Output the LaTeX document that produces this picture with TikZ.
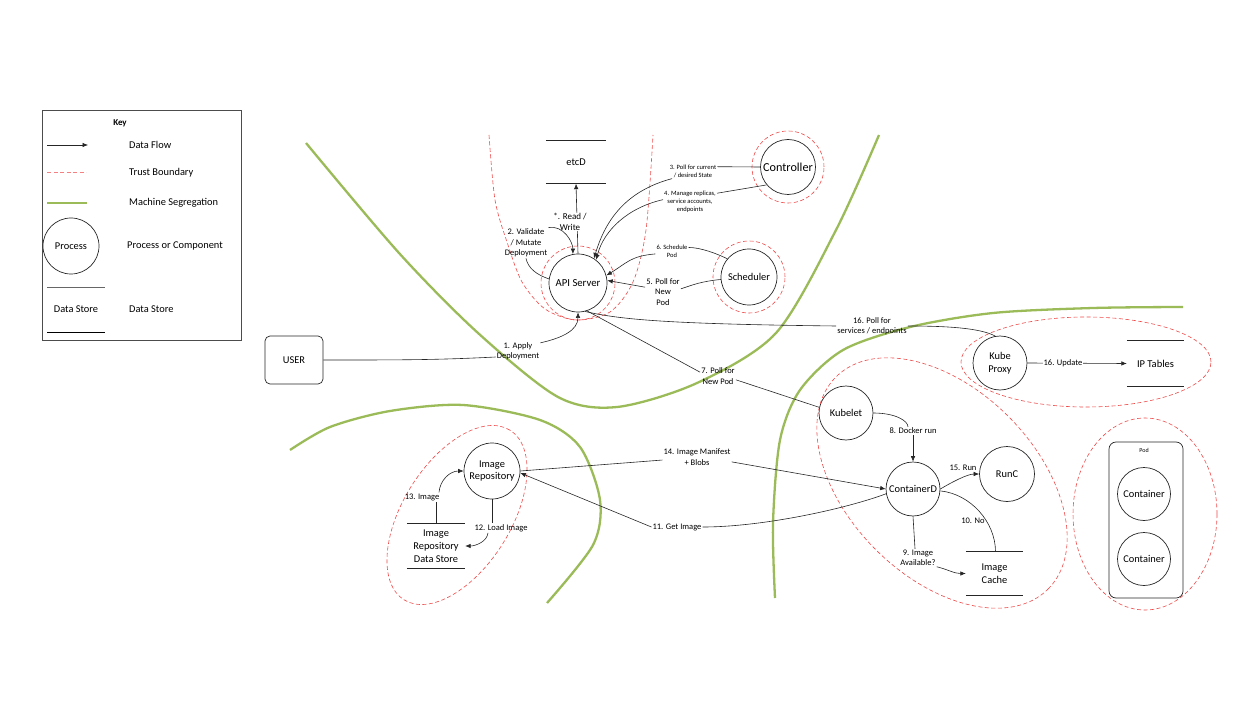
\documentclass[tikz,border=0pt]{standalone}
\usepackage{fontspec}
\setmainfont{Carlito}
\usetikzlibrary{arrows.meta,calc}
\definecolor{kgreen}{HTML}{9BBB59}
\definecolor{kred}{HTML}{EE4B4B}
\newcommand{\fnode}{\fontsize{10.4}{12.7}\selectfont}
\newcommand{\flbl}{\fontsize{8.5}{10.5}\selectfont}
\newcommand{\fsml}{\fontsize{6.5}{8}\selectfont}
\newcommand{\storebars}[1]{\draw[kbar] (#1.north west) -- (#1.north east) (#1.south west) -- (#1.south east);}
\tikzset{
  >={Latex[length=5.5pt,width=4.5pt]},
  kproc/.style={circle, draw=black!85, line width=0.7pt, inner sep=0pt,
                minimum size=54pt, align=center, font=\fnode},
  kstore/.style={inner sep=0pt, minimum width=58pt, minimum height=44pt,
                 align=center, font=\fnode},
  kbar/.style={draw=black!85, line width=0.7pt},
  kflow/.style={->, draw=black!85, line width=0.6pt},
  kline/.style={draw=black!85, line width=0.6pt},
  klbl/.style={font=\flbl, align=center, inner sep=1pt},
  ksml/.style={font=\fsml, align=center, inner sep=1pt},
  ktrust/.style={draw=kred, line width=0.6pt, dash pattern=on 4pt off 2.5pt},
  kseg/.style={draw=kgreen, line width=2.3pt},
}

\begin{document}
\begin{tikzpicture}[x=1pt,y=-1pt]
  \useasboundingbox (0,0) rectangle (1260,727);

  % --- machine segregation ---
  \draw[kseg] plot[smooth] coordinates {(306,143) (399,253) (478,333) (558,397)
    (617,407) (697,383) (776,333) (836,230) (879,135)};
  \draw[kseg] plot[smooth] coordinates {(290,450) (330,427) (390,411) (463,405)
    (540,420) (580,447) (600,500) (593,545) (547,603)};
  \draw[kseg] plot[smooth] coordinates {(775,598) (773,523) (780,440) (800,390)
    (843,350) (910,327) (993,313) (1093,308) (1183,307)};

  % --- key ---
  \node[draw=black!70, line width=0.7pt, minimum width=199pt, minimum height=230pt,
        inner sep=0pt] (key) at (141.5,225) {};
  \node[font=\fontsize{9}{10}\selectfont\bfseries] (keyttl) at (120,123) {Key};
  \draw[kflow] (47,145) -- (88,145);
  \node[anchor=west, inner sep=0pt, font=\fnode] (keyflow) at (129,145) {Data Flow};
  \draw[ktrust, draw=kred!70, line width=1pt] (47,173) -- (86,173);
  \node[anchor=west, inner sep=0pt, font=\fnode] (keytrust) at (129,173) {Trust Boundary};
  \draw[kseg] (47,203) -- (87,203);
  \node[anchor=west, inner sep=0pt, font=\fnode] (keyseg) at (129,203) {Machine Segregation};
  \node[kproc, minimum size=56pt] (keyproc) at (71,246) {Process};
  \node[anchor=west, inner sep=0pt, font=\fnode] (keyproctxt) at (127,246) {Process or Component};
  \draw[kline, black!60] (47,287) -- (105,287);
  \draw[kbar, line width=1pt, black] (47,332) -- (105,332);
  \node[font=\fnode] (keystore) at (76,309) {Data Store};
  \node[anchor=west, inner sep=0pt, font=\fnode] (keystoretxt) at (129,309) {Data Store};

  % --- control plane ---
  \node[kstore, minimum width=60pt, minimum height=43pt] (etcd) at (576,162) {etcD};
  \storebars{etcd}
  \node[kproc, minimum size=58pt, font=\fontsize{10.7}{12}\selectfont] (api) at (578,283) {API Server};
  \node[kproc, minimum size=55pt, font=\fontsize{12.2}{13}\selectfont] (ctrl) at (788,167) {Controller};
  \node[kproc, minimum size=56pt] (sched) at (749,277) {Scheduler};
  \node[draw=black!85, line width=0.7pt, rounded corners=5pt, minimum width=58pt,
        minimum height=48pt, font=\fnode] (user) at (294,360) {USER};

  \draw[ktrust] (api.center) circle[radius=37pt];
  \draw[ktrust] (ctrl.center) circle[radius=36pt];
  \draw[ktrust] (sched.center) circle[radius=36pt];
  \draw[ktrust] plot[smooth] coordinates {(489,135) (495,200) (507,242) (522,282)
    (545,309) (576,320) (610,312) (633,282) (646,230) (653,135)};

  % --- worker: proxy ---
  \node[kproc] (proxy) at (1000,363) {Kube\\Proxy};
  \node[kstore, minimum width=57pt, minimum height=45pt,
        font=\fontsize{10.5}{12}\selectfont] (ipt) at (1155.5,363.5) {IP Tables};
  \storebars{ipt}
  \draw[ktrust] (1086,362) ellipse[x radius=125pt, y radius=45pt];

  % --- worker: runtime ---
  \node[kproc] (kubelet) at (846,413) {Kubelet};
  \node[kproc] (ctd) at (913,489) {ContainerD};
  \node[kproc, minimum size=55pt] (runc) at (1007,474) {RunC};
  \node[kstore, minimum width=57pt, minimum height=43pt] (cache) at (994.5,573.5) {Image\\Cache};
  \storebars{cache}
  \draw[ktrust, rotate around={-45:(942,483)}] (942,483) ellipse[x radius=150pt, y radius=94pt];

  % --- registry ---
  \node[kproc, minimum size=56pt] (repo) at (492,471) {Image\\Repository};
  \node[kstore] (rstore) at (436,546) {Image\\Repository\\Data Store};
  \storebars{rstore}
  \draw[ktrust, rotate around={58:(457,515)}] (457,515) ellipse[x radius=100pt, y radius=54pt];

  % --- pod ---
  \node[draw=black!85, line width=0.7pt, rounded corners=7pt, minimum width=74pt,
        minimum height=156pt] (pod) at (1146,520) {};
  \node[font=\fontsize{6}{7}\selectfont] (podlbl) at (1144,450) {Pod};
  \node[kproc, minimum size=53pt] (cont1) at (1144,494) {Container};
  \node[kproc, minimum size=53pt] (cont2) at (1144,559) {Container};
  \draw[ktrust] (1145,514) ellipse[x radius=72pt, y radius=96pt];

  % --- flows ---
  \node[klbl] (l1) at (518,351) {1. Apply\\Deployment};
  \draw[kline] (user.east) .. controls +(80,0) and +(-60,3) .. (l1.195);
  \draw[kflow] (l1.20) .. controls +(22,-5) and +(0,18) .. (api.south);

  \draw[kflow] (api.north) -- (etcd.south);
  \node[klbl, fill=white, inner sep=0.5pt, font=\fontsize{9}{10.5}\selectfont] (lrw) at (570,222) {*. Read /\\Write};

  \node[klbl] (l2) at (526,243) {2. Validate\\/ Mutate\\Deployment};
  \draw[kline] (api.172) .. controls +(-12,-4) and +(2,10) .. (l2.south);
  \draw[kflow] (l2.north east) .. controls +(15,-3) and +(0,-12) .. (api.100);

  \node[ksml] (l3) at (693,171) {3. Poll for current\\/ desired State};
  \draw[kline] (ctrl.west) -- (l3.10);
  \draw[kflow] (l3.200) .. controls +(-45,12) and +(12,-40) .. (api.57);

  \node[ksml] (l4) at (690,202) {4. Manage replicas,\\service accounts,\\endpoints};
  \draw[kline] (ctrl.-140) -- (l4.18);
  \draw[kflow] (l4.175) .. controls +(-35,8) and +(8,-30) .. (api.52);

  \node[ksml] (l6) at (672,251) {6. Schedule\\Pod};
  \draw[kline] (sched.140) .. controls +(-10,-5) and +(12,0) .. (l6.12);
  \draw[kflow] (l6.190) .. controls +(-25,2) and +(20,-12) .. (api.15);

  \node[klbl] (l5) at (663,292) {5. Poll for\\New\\Pod};
  \draw[kline] (sched.185) .. controls +(-20,2) and +(12,-4) .. (l5.10);
  \draw[kflow] (l5.165) -- (api.5);

  \node[klbl] (l7) at (718,376) {7. Poll for\\New Pod};
  \draw[kline] (kubelet.168) -- (l7.-12);
  \draw[kline] (l7.168) -- (api.-72);

  \node[klbl] (l16) at (872,326) {16. Poll for\\services / endpoints};
  \draw[kline] (proxy.100) .. controls +(-15,-8) and +(40,0) .. (l16.east);
  \draw[kline] (l16.west) .. controls +(-170,-2) and +(35,8) .. (api.-76);

  \draw[kflow] (proxy.east) -- (ipt.west);
  \node[klbl, fill=white] (l16u) at (1063,363) {16. Update};

  \node[klbl] (l8) at (913,431) {8. Docker run};
  \draw[kline] (kubelet.east) .. controls +(22,0) and +(0,-6) .. ([xshift=-5pt]l8.north);
  \draw[kflow] (l8.south) -- (ctd.north);

  \node[klbl] (l15) at (963,468) {15. Run};
  \draw[kflow] (ctd.east) .. controls +(10,-6) and +(-12,0) .. (runc.west);

  \node[klbl] (l10) at (973,521) {10. No};
  \draw[kline] (ctd.-4) .. controls +(30,3) and +(0,-30) .. ([xshift=1pt]cache.north);

  \node[klbl] (l9) at (918,558) {9. Image\\Available?};
  \draw[kline] (ctd.south) -- ([xshift=-3pt]l9.north);
  \draw[kflow] (l9.-25) .. controls +(12,3) and +(-12,0) .. (cache.west);

  \node[klbl] (l14) at (697,457) {14. Image Manifest\\+ Blobs};
  \draw[kline] (repo.east) -- (l14.185);
  \draw[kflow] (l14.-8) -- (ctd.west);

  \node[klbl] (l11) at (677,527) {11. Get Image};
  \draw[kflow] (l11.west) -- (repo.-4);
  \draw[kline] (l11.east) .. controls +(60,0) and +(-40,15) .. (ctd.190);

  \node[klbl] (l13) at (422,497) {13. Image};
  \draw[kline] (rstore.north) -- ([xshift=14pt]l13.south);
  \draw[kflow] ([xshift=17pt]l13.north) .. controls +(1,-12) and +(-14,0) .. (repo.west);

  \node[klbl] (l12) at (501,528) {12. Load Image};
  \draw[kline] (repo.south) -- ([xshift=-9pt]l12.north);
  \draw[kflow] ([xshift=-13pt]l12.south) .. controls +(-1,9) and +(10,0) .. (rstore.east);

\end{tikzpicture}
\end{document}
